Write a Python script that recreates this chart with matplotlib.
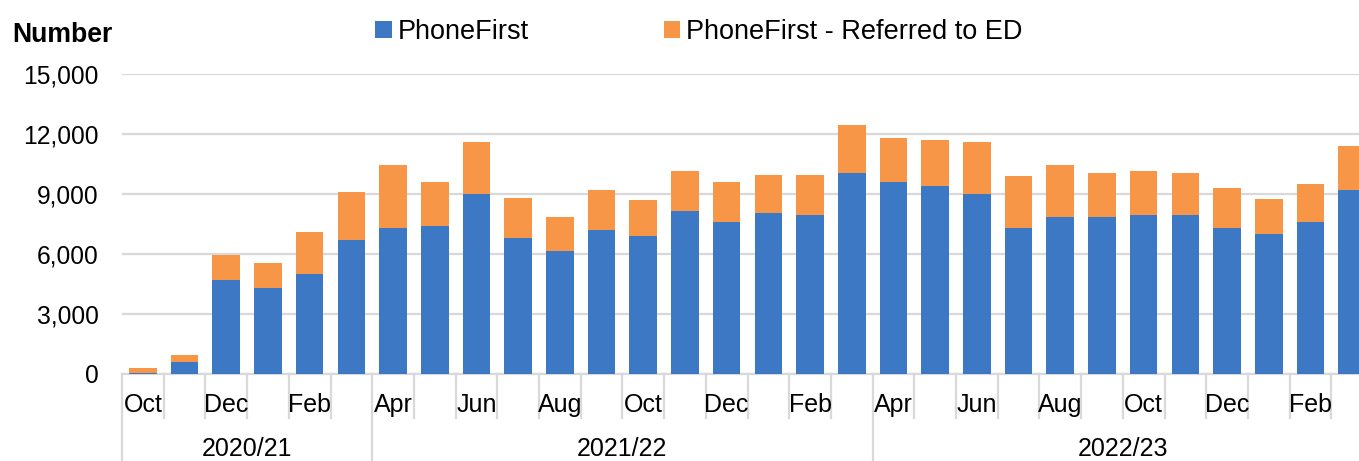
import matplotlib
matplotlib.use("Agg")
import matplotlib.pyplot as plt
import matplotlib.transforms as mtransforms

plt.rcParams['font.family'] = ['Liberation Sans', 'DejaVu Sans']

months = ["Oct", "Nov", "Dec", "Jan", "Feb", "Mar",
          "Apr", "May", "Jun", "Jul", "Aug", "Sep", "Oct", "Nov", "Dec", "Jan", "Feb", "Mar",
          "Apr", "May", "Jun", "Jul", "Aug", "Sep", "Oct", "Nov", "Dec", "Jan", "Feb", "Mar"]
years = ["2020/21", "2021/22", "2022/23"]
year_counts = [6, 12, 12]
phonefirst = [30, 590, 4675, 4260, 4990, 6675,
              7290, 7390, 8960, 6775, 6125, 7200, 6875, 8125, 7590, 8025, 7910, 10010,
              9590, 9390, 8960, 7290, 7810, 7810, 7910, 7910, 7290, 6975, 7590, 9175]
referred_ed = [240, 320, 1250, 1250, 2085, 2385,
               3135, 2200, 2615, 1985, 1685, 1975, 1785, 2000, 2000, 1885, 2000, 2415,
               2200, 2300, 2615, 2600, 2615, 2200, 2200, 2100, 1985, 1765, 1885, 2200]
yticks = [0, 3000, 6000, 9000, 12000, 15000]

W, H = 1359, 461
fig = plt.figure(figsize=(W / 100, H / 100), dpi=100)
x0, x1 = 122, 1373
y0, y1 = 373.5, 73.5
ax = fig.add_axes([x0 / W, (H - y0) / H, (x1 - x0) / W, (y0 - y1) / H])

blue = '#3C78C3'
orange = '#F79646'
grid = '#D9D9D9'
n = len(months)
xs = list(range(n))
ax.bar(xs, phonefirst, width=0.66, color=blue, label='PhoneFirst', zorder=3)
ax.bar(xs, referred_ed, width=0.66, bottom=phonefirst, color=orange,
       label='PhoneFirst - Referred to ED', zorder=3)

ax.set_xlim(-0.5, n - 0.5)
ax.set_ylim(0, 15000)
ax.set_yticks(yticks)
ax.set_yticklabels([f"{v:,}" for v in yticks], fontsize=17.7)
ax.tick_params(axis='y', length=0, pad=17)
ax.yaxis.grid(True, color=grid, linewidth=1.6, zorder=0)
for s in ['top', 'right', 'left']:
    ax.spines[s].set_visible(False)
ax.spines['bottom'].set_color(grid)
ax.spines['bottom'].set_linewidth(1.6)

# month labels
ax.set_xticks(xs)
ax.set_xticklabels([m if i % 2 == 0 else "" for i, m in enumerate(months)], fontsize=18)
ax.tick_params(axis='x', length=0, pad=14)

trans = mtransforms.blended_transform_factory(ax.transData, ax.transAxes)
ah = y0 - y1
sep_bottom = -(418 - y0) / ah
year_bottom = -(H + 2 - y0) / ah
year_y = -(449 - y0) / ah

boundaries = [0]
for c in year_counts:
    boundaries.append(boundaries[-1] + c)
for i in range(n + 1):
    xb = i - 0.5
    bottom = year_bottom if i in boundaries else sep_bottom
    ax.plot([xb, xb], [0, bottom], transform=trans, color=grid, linewidth=1.6,
            clip_on=False, zorder=1)
for k, yname in enumerate(years):
    cx = (boundaries[k] + boundaries[k + 1]) / 2 - 0.5
    ax.text(cx, year_y, yname, transform=trans, ha='center', va='center', fontsize=18)

fig.text(12 / W, (H - 35) / H, "Number", fontsize=19.2, fontweight='bold', ha='left', va='center')

leg = fig.legend(loc='center', bbox_to_anchor=(699 / W, (H - 32) / H), ncol=2, frameon=False,
                 fontsize=19.5, handlelength=0.6, handleheight=0.6, handletextpad=0.22,
                 columnspacing=5.0, borderaxespad=0, borderpad=0)

fig.savefig("out.png", dpi=100)
